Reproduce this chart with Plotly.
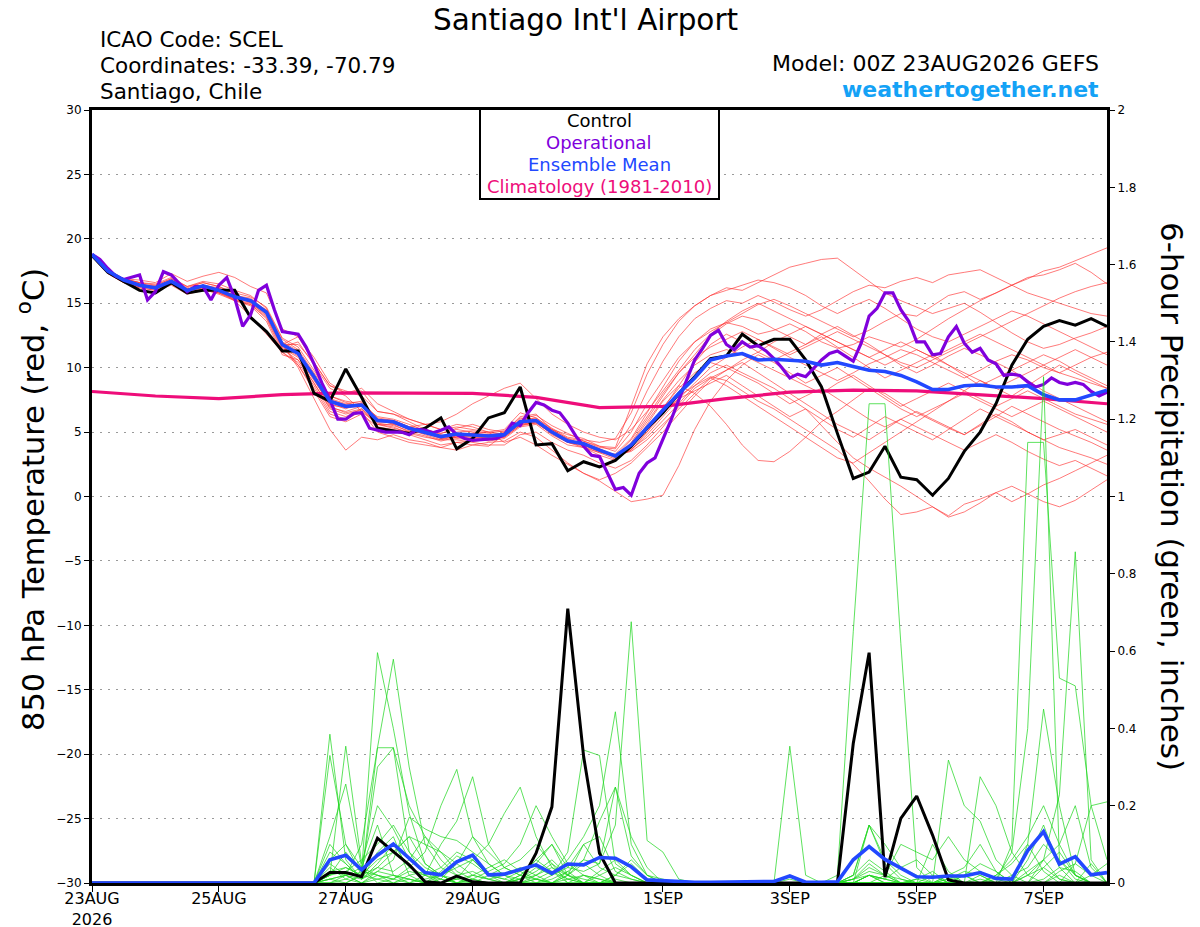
import pandas as pd
import plotly.graph_objects as go

# forecast valid times, 6-hourly, 00Z 23AUG2026 run
times = pd.date_range("2026-08-23 00:00", periods=65, freq="6h")
times_3h = pd.date_range("2026-08-23 00:00", periods=129, freq="3h")
clim_times = pd.date_range("2026-08-23 00:00", periods=17, freq="24h")

tick_vals = ["2026-08-23", "2026-08-25", "2026-08-27", "2026-08-29",
             "2026-09-01", "2026-09-03", "2026-09-05", "2026-09-07"]
tick_text = ["23AUG<br>2026", "25AUG", "27AUG", "29AUG", "1SEP", "3SEP", "5SEP", "7SEP"]

# 850 hPa temperature, ensemble members (degC)
t_m01 = [18.7, 17.6, 16.9, 16.6, 16.5, 17.0, 16.3, 16.7, 16.5, 16.0, 15.6, 14.6, 12.2,
         11.4, 9.6, 7.8, 7.3, 7.0, 6.2, 6.0, 5.6, 5.1, 4.9, 5.3, 5.6, 5.2,
         5.0, 6.2, 6.4, 5.2, 4.8, 4.5, 3.9, 3.5, 5.0, 7.2, 9.0, 10.8, 12.0,
         13.0, 13.5, 13.2, 12.6, 12.9, 13.4, 12.8, 12.0, 11.5, 11.8, 12.4, 12.0, 11.6,
         12.2, 13.0, 13.8, 14.5, 15.2, 15.8, 16.4, 16.9, 17.5, 17.8, 18.3, 18.8, 19.3]
t_m02 = [18.8, 17.4, 16.6, 16.2, 16.0, 16.4, 15.7, 16.0, 15.8, 15.3, 15.0, 14.0, 11.5,
         10.8, 9.0, 7.2, 6.8, 7.3, 6.0, 5.6, 5.0, 4.7, 4.3, 4.6, 4.9, 5.0,
         5.2, 6.5, 6.1, 5.3, 4.6, 4.4, 4.2, 4.5, 6.5, 9.5, 11.8, 13.6, 14.8,
         15.6, 16.2, 16.0, 16.6, 17.2, 17.8, 18.1, 18.4, 18.5, 17.6, 16.7, 15.8, 15.2,
         14.7, 14.2, 14.6, 15.0, 14.3, 13.5, 12.7, 12.0, 11.5, 11.8, 12.3, 12.7, 13.2]
t_m03 = [18.6, 17.5, 16.9, 16.8, 16.6, 17.3, 16.7, 17.1, 17.4, 17.0, 16.3, 15.8, 13.0,
         12.4, 10.4, 8.6, 8.0, 8.2, 6.6, 6.4, 5.8, 5.2, 4.9, 5.2, 5.0, 4.6,
         5.0, 6.0, 6.3, 5.5, 4.9, 4.3, 3.8, 3.7, 5.6, 8.2, 10.5, 12.4, 13.8,
         14.6, 15.2, 15.0, 15.6, 15.1, 14.5, 14.0, 14.5, 15.2, 15.9, 16.4, 16.2, 16.7,
         17.0, 16.6, 17.2, 17.4, 17.6, 17.0, 16.4, 15.8, 15.4, 15.0, 14.6, 14.2, 14.0]
t_m04 = [18.7, 17.3, 16.6, 16.3, 16.3, 16.8, 16.1, 16.3, 15.9, 15.6, 15.4, 14.4, 11.9,
         11.0, 9.4, 7.6, 7.2, 7.4, 6.1, 5.9, 5.4, 5.2, 4.8, 4.5, 4.4, 4.4,
         4.6, 5.5, 5.8, 5.1, 4.2, 3.8, 3.4, 3.3, 4.5, 6.5, 8.5, 10.5, 12.0,
         12.8, 13.5, 14.2, 14.9, 15.3, 14.8, 14.2, 13.6, 13.0, 12.4, 12.9, 13.6, 14.2,
         14.0, 14.8, 15.6, 15.9, 15.3, 15.8, 16.4, 17.0, 17.2, 17.6, 18.1, 17.4, 16.5]
t_m05 = [18.8, 17.6, 16.8, 16.3, 16.2, 16.6, 15.9, 16.2, 16.1, 15.6, 15.1, 14.2, 11.6,
         10.9, 9.1, 7.0, 6.5, 6.8, 5.8, 5.7, 5.3, 5.1, 4.7, 4.9, 4.7, 4.5,
         4.7, 5.6, 5.7, 4.9, 4.2, 3.9, 3.4, 2.9, 4.2, 6.0, 7.8, 9.6, 11.0,
         12.5, 13.4, 14.0, 13.7, 13.0, 12.4, 11.8, 12.6, 13.2, 12.5, 11.8, 11.0, 10.2,
         9.6, 10.2, 10.9, 11.5, 11.0, 10.4, 9.8, 10.4, 11.0, 10.5, 9.8, 9.2, 8.6]
t_m06 = [18.7, 17.5, 16.7, 16.4, 16.4, 16.9, 16.2, 16.6, 16.3, 15.7, 15.0, 14.1, 11.7,
         11.2, 9.5, 7.3, 6.9, 7.0, 5.7, 5.5, 5.1, 4.9, 4.6, 5.0, 5.1, 4.9,
         5.1, 6.1, 6.0, 5.0, 4.4, 4.0, 3.5, 3.0, 3.6, 4.8, 6.2, 7.6, 8.8,
         10.0, 10.8, 11.6, 12.2, 11.5, 10.8, 10.2, 9.6, 9.0, 9.6, 10.3, 10.8, 11.4,
         11.0, 10.4, 9.8, 9.2, 9.8, 10.5, 11.0, 10.6, 10.0, 9.6, 10.2, 10.8, 11.2]
t_m07 = [18.8, 17.4, 16.7, 16.5, 16.2, 16.5, 15.8, 16.1, 15.7, 15.2, 14.9, 13.9, 11.4,
         10.6, 8.8, 6.8, 6.4, 6.7, 5.6, 5.4, 4.9, 4.6, 4.4, 4.7, 4.6, 4.3,
         4.5, 5.4, 5.6, 4.7, 4.0, 3.8, 3.2, 2.8, 3.8, 5.6, 7.4, 8.6, 8.0,
         7.0, 5.6, 4.0, 2.8, 2.7, 3.5, 4.6, 5.8, 6.6, 7.5, 8.4, 8.0, 7.2,
         6.5, 5.9, 5.3, 4.8, 5.5, 6.2, 7.0, 6.4, 5.8, 5.2, 4.7, 4.2, 3.6]
t_m08 = [18.6, 17.4, 16.9, 16.6, 16.1, 16.6, 16.0, 16.4, 16.2, 15.4, 15.2, 14.5, 12.0,
         11.3, 9.2, 7.5, 7.1, 7.2, 6.0, 5.9, 5.4, 5.0, 4.5, 4.6, 4.5, 4.6,
         4.9, 5.9, 5.8, 4.8, 4.2, 4.2, 3.7, 3.2, 3.9, 5.0, 6.4, 7.8, 8.6,
         9.3, 9.0, 8.2, 7.4, 6.8, 6.0, 5.2, 4.4, 3.6, 2.5, 1.2, -0.2, -1.4,
         -1.2, -0.8, -1.5, -0.6, -0.2, 0.3, -0.4, 0.2, 0.9, 1.4, 2.0, 2.6, 3.2]
t_m09 = [18.7, 17.5, 16.8, 16.3, 16.1, 16.7, 16.1, 16.3, 16.1, 15.6, 15.3, 14.3, 11.9,
         11.0, 9.3, 7.4, 7.0, 7.0, 5.9, 5.9, 5.4, 5.0, 4.7, 4.9, 4.9, 4.8,
         4.9, 5.7, 6.0, 5.1, 4.4, 4.1, 3.7, 3.1, 3.8, 5.2, 6.5, 7.6, 8.2,
         8.8, 9.4, 8.6, 7.8, 7.0, 6.2, 6.8, 5.5, 4.2, 3.0, 2.2, 1.5, 0.8,
         0.0, -0.8, -1.6, -1.2, -0.5, 0.3, 0.8, 0.2, -0.4, -0.8, -0.3, 0.5, 1.3]
t_m10 = [18.8, 17.6, 16.9, 16.5, 16.3, 16.8, 16.1, 16.4, 15.9, 15.5, 15.2, 14.3, 11.7,
         11.1, 9.4, 7.5, 7.1, 7.0, 5.8, 5.8, 5.3, 5.0, 4.7, 4.8, 4.9, 4.8,
         4.8, 5.9, 6.1, 5.2, 4.5, 4.0, 3.5, 3.1, 3.9, 5.3, 6.9, 8.4, 9.6,
         10.4, 10.0, 9.4, 8.8, 8.0, 7.2, 7.8, 8.4, 7.6, 6.8, 6.0, 5.4, 6.0,
         6.6, 6.0, 5.4, 4.8, 5.6, 6.4, 5.8, 5.0, 4.4, 4.8, 5.2, 4.6, 4.0]
t_m11 = [18.7, 17.5, 16.8, 16.4, 16.2, 16.6, 16.0, 16.3, 16.0, 15.2, 14.0, 12.6, 11.2,
         10.2, 8.4, 6.4, 6.0, 6.6, 5.6, 5.3, 5.0, 5.0, 4.6, 4.8, 4.7, 4.6,
         4.7, 5.6, 5.8, 5.2, 4.5, 4.3, 3.9, 3.8, 7.0, 10.3, 12.4, 13.8, 14.8,
         15.6, 16.0, 16.4, 16.8, 16.6, 16.2, 15.6, 14.8, 14.2, 14.8, 15.3, 14.6, 13.8,
         13.0, 12.4, 12.0, 12.6, 13.2, 13.8, 14.4, 14.0, 13.4, 12.8, 12.2, 11.6, 11.0]
t_m12 = [18.7, 17.4, 16.8, 16.4, 16.2, 16.7, 16.0, 16.3, 15.8, 15.4, 15.1, 14.4, 11.9,
         11.2, 9.3, 7.1, 6.9, 7.1, 5.9, 5.7, 5.2, 4.9, 4.7, 4.9, 4.7, 4.8,
         4.8, 5.8, 5.9, 5.0, 4.3, 4.0, 3.6, 3.2, 3.5, 4.4, 5.6, 6.8, 8.0,
         9.2, 9.8, 10.4, 9.6, 8.8, 8.0, 7.2, 6.4, 5.6, 5.0, 4.4, 5.2, 6.0,
         5.4, 4.8, 4.2, 3.6, 4.2, 4.8, 4.2, 3.5, 2.9, 2.4, 2.8, 2.2, 1.6]
t_m13 = [18.8, 17.5, 16.7, 16.3, 16.2, 16.8, 15.9, 16.4, 16.1, 15.5, 15.2, 14.2, 11.8,
         11.8, 10.4, 8.6, 8.2, 7.8, 6.6, 6.4, 6.0, 5.6, 5.2, 5.4, 5.2, 5.0,
         4.8, 5.7, 5.9, 5.0, 4.3, 4.1, 3.6, 3.2, 4.1, 5.8, 7.5, 9.0, 10.2,
         11.0, 11.4, 11.0, 10.4, 9.8, 9.2, 8.6, 8.0, 8.8, 9.4, 8.6, 7.8, 7.0,
         7.6, 8.2, 8.8, 8.2, 7.6, 7.0, 7.6, 8.2, 7.6, 7.0, 6.4, 6.0, 5.6]
t_m14 = [18.7, 17.6, 16.8, 16.4, 16.1, 16.6, 16.0, 16.3, 16.0, 15.6, 15.2, 14.3, 11.8,
         10.2, 8.2, 6.2, 5.8, 6.4, 5.4, 5.2, 4.8, 4.4, 4.0, 4.2, 4.3, 4.4,
         4.8, 5.8, 5.9, 5.0, 4.3, 4.1, 3.6, 3.1, 3.6, 5.0, 6.8, 8.6, 10.4,
         11.8, 12.6, 12.0, 11.2, 10.6, 11.2, 11.8, 12.4, 11.6, 10.8, 10.0, 9.2, 9.8,
         10.4, 11.0, 10.2, 9.4, 8.6, 9.2, 9.8, 9.0, 8.2, 7.6, 7.0, 6.4, 5.8]
t_m15 = [18.8, 17.4, 16.7, 16.3, 16.3, 16.7, 16.1, 16.4, 16.0, 15.4, 15.1, 14.2, 11.6,
         12.0, 10.2, 8.4, 7.8, 6.6, 5.0, 4.6, 4.2, 4.0, 3.8, 4.2, 4.0, 3.9,
         4.8, 5.8, 5.9, 5.0, 4.3, 4.1, 3.6, 3.1, 3.7, 4.6, 5.9, 7.2, 8.6,
         9.6, 10.2, 9.6, 9.0, 8.4, 7.6, 6.8, 6.0, 5.2, 4.6, 5.4, 6.2, 5.6,
         5.0, 4.4, 5.2, 6.0, 6.8, 6.2, 5.6, 5.0, 4.4, 3.8, 3.4, 3.0, 2.5]
t_m16 = [18.7, 17.5, 16.8, 16.4, 16.2, 16.7, 16.0, 16.3, 16.0, 15.5, 15.2, 14.3, 11.8,
         10.0, 7.6, 5.2, 3.6, 4.6, 4.4, 4.8, 4.4, 4.2, 3.8, 3.6, 4.0, 4.2,
         4.3, 5.0, 4.6, 3.6, 2.6, 1.8, 1.2, 0.4, -0.4, -0.2, 0.1, 2.4, 5.2,
         7.4, 9.0, 10.2, 11.0, 10.4, 9.6, 8.8, 9.4, 10.0, 9.2, 8.4, 7.6, 6.8,
         6.2, 6.8, 7.4, 8.0, 7.4, 6.8, 6.2, 6.8, 7.4, 6.8, 6.2, 5.6, 5.0]
t_m17 = [18.8, 17.5, 16.8, 16.4, 16.2, 16.7, 16.0, 16.4, 16.0, 15.5, 15.2, 14.3, 11.8,
         12.4, 10.8, 8.8, 8.0, 8.4, 7.2, 6.6, 6.0, 5.6, 5.2, 5.6, 5.4, 5.0,
         4.2, 4.6, 4.0, 3.2, 2.5, 1.8, 1.3, 1.8, 2.6, 3.8, 5.0, 6.4, 7.8,
         9.0, 9.8, 10.6, 11.2, 12.0, 12.6, 13.2, 12.6, 12.0, 11.4, 10.8, 10.2, 10.8,
         11.4, 10.8, 10.2, 9.6, 9.0, 8.4, 9.0, 9.6, 10.2, 10.8, 11.4, 10.8, 10.2]
t_m18 = [18.6, 17.3, 16.6, 16.2, 16.0, 16.5, 15.8, 16.1, 15.9, 15.3, 14.9, 13.8, 11.2,
         10.4, 8.6, 6.6, 6.2, 6.8, 5.6, 5.6, 5.4, 5.6, 5.8, 6.4, 7.2, 7.8,
         8.4, 8.8, 7.6, 6.4, 5.6, 5.0, 4.6, 4.4, 5.2, 6.6, 8.2, 9.8, 11.4,
         12.6, 13.6, 14.4, 15.0, 14.4, 13.8, 13.2, 12.6, 12.0, 11.4, 10.8, 11.4, 12.0,
         11.4, 10.8, 11.4, 12.0, 12.6, 12.0, 11.4, 10.8, 10.2, 9.6, 9.2, 8.8, 8.4]
t_m19 = [18.8, 17.6, 16.9, 16.6, 16.4, 16.9, 16.3, 16.6, 16.3, 15.8, 15.5, 14.7, 12.3,
         11.6, 9.8, 7.8, 7.4, 7.2, 6.0, 5.8, 5.2, 4.8, 4.4, 4.4, 4.2, 4.0,
         4.0, 4.8, 5.0, 4.2, 3.6, 3.2, 2.6, 2.2, 2.8, 4.0, 5.4, 7.0, 8.4,
         9.2, 8.6, 7.8, 7.0, 6.2, 5.4, 4.6, 3.8, 3.0, 2.6, 3.4, 4.2, 5.0,
         5.8, 6.6, 7.4, 8.2, 9.0, 8.4, 7.8, 8.6, 9.4, 10.2, 9.6, 9.0, 8.4]
t_m20 = [18.7, 17.4, 16.7, 16.4, 16.2, 16.6, 15.9, 16.2, 15.8, 15.2, 14.8, 13.6, 11.0,
         10.6, 8.8, 6.9, 6.6, 7.0, 5.9, 5.7, 5.2, 4.9, 4.5, 4.7, 4.6, 4.5,
         4.6, 5.5, 5.7, 4.9, 4.2, 4.0, 3.5, 3.1, 4.4, 6.2, 8.0, 9.6, 10.8,
         11.6, 12.2, 12.8, 12.2, 11.6, 11.0, 11.6, 12.2, 12.8, 12.2, 11.6, 11.0, 10.4,
         10.0, 10.6, 11.2, 11.8, 12.4, 13.0, 13.6, 14.2, 14.8, 15.4, 15.9, 16.3, 16.6]
temp_members = [t_m01, t_m02, t_m03, t_m04, t_m05, t_m06, t_m07, t_m08, t_m09, t_m10,
                t_m11, t_m12, t_m13, t_m14, t_m15, t_m16, t_m17, t_m18, t_m19, t_m20]

# 6-hour precipitation, ensemble members (inches)
z13 = [0] * 13
p_m01 = z13 + [0, 0, 0.385, 0.06, 0.01, 0.04, 0.08, 0.12, 0.05, 0.02, 0, 0.01, 0,
               0, 0, 0.02, 0.05, 0, 0, 0, 0, 0, 0, 0, 0, 0,
               0, 0, 0, 0, 0, 0.02, 0, 0, 0, 0.01, 0.04, 0.02, 0,
               0, 0, 0.01, 0.02, 0, 0, 0, 0.03, 0.06, 0.01, 0, 0, 0]
p_m02 = z13 + [0, 0, 0.33, 0.1, 0.02, 0.3, 0.35, 0.2, 0.12, 0.06, 0.02, 0, 0,
               0, 0.01, 0.06, 0.03, 0.01, 0, 0, 0.02, 0.05, 0.01, 0, 0, 0,
               0, 0, 0, 0, 0, 0, 0, 0, 0, 0.02, 0.15, 0.05, 0.01,
               0, 0, 0.02, 0, 0.01, 0, 0, 0.1, 0.45, 0.2, 0.02, 0, 0]
p_m03 = z13 + [0, 0, 0.02, 0.354, 0.05, 0.2, 0.14, 0.06, 0.03, 0, 0.01, 0.06, 0.02,
               0, 0, 0, 0, 0.02, 0.05, 0.02, 0, 0, 0, 0, 0, 0,
               0, 0, 0, 0, 0, 0.354, 0.02, 0, 0, 0, 0.02, 0.01, 0,
               0.01, 0.03, 0, 0, 0, 0.02, 0.05, 0.1, 0.03, 0, 0, 0, 0]
p_m04 = z13 + [0, 0, 0.12, 0.256, 0.04, 0.15, 0.02, 0.01, 0, 0.03, 0.07, 0.05, 0.02,
               0.01, 0, 0, 0.02, 0.04, 0.1, 0.12, 0.03, 0.01, 0, 0, 0, 0,
               0, 0, 0, 0, 0, 0, 0, 0, 0.02, 0.65, 1.24, 1.24, 0.62,
               0.04, 0, 0, 0, 0.02, 0, 0, 0, 0, 0.03, 0.05, 0.02, 0]
p_m05 = z13 + [0, 0, 0.02, 0.08, 0.03, 0.596, 0.4, 0.18, 0.05, 0.02, 0, 0.02, 0.04,
               0.06, 0.03, 0.01, 0, 0, 0, 0, 0.02, 0.01, 0, 0, 0, 0,
               0, 0, 0, 0, 0, 0, 0, 0, 0, 0, 0.02, 0.01, 0,
               0, 0, 0.318, 0.2, 0.16, 0.06, 0.02, 0, 0, 0, 0.05, 0.2, 0.21]
p_m06 = z13 + [0, 0, 0.05, 0.02, 0.1, 0.35, 0.579, 0.3, 0.1, 0.04, 0.02, 0, 0,
               0, 0.02, 0.05, 0.1, 0.02, 0, 0, 0, 0, 0, 0, 0, 0,
               0, 0, 0, 0, 0, 0.01, 0, 0, 0, 0.02, 0.15, 0.06, 0.02,
               0, 0.1, 0.03, 0, 0.275, 0.2, 0.08, 0.02, 0, 0, 0, 0, 0]
p_m07 = z13 + [0, 0, 0.03, 0.04, 0.02, 0.35, 0.35, 0.08, 0.02, 0.01, 0.05, 0.12, 0.08,
               0.04, 0.02, 0, 0, 0.03, 0.06, 0.05, 0.248, 0.07, 0.02, 0, 0, 0,
               0, 0, 0, 0, 0, 0, 0, 0, 0, 0.01, 0.03, 0.02, 0.01,
               0, 0, 0.01, 0.03, 0.02, 0, 0.1, 1.14, 1.14, 0.53, 0.51, 0.2, 0.06]
p_m08 = z13 + [0, 0, 0.08, 0.05, 0.01, 0.03, 0.06, 0.17, 0.14, 0.12, 0.11, 0.08, 0.05,
               0.02, 0, 0.01, 0.03, 0, 0, 0, 0, 0, 0, 0, 0, 0,
               0, 0, 0, 0, 0, 0, 0, 0, 0, 0, 0.02, 0.01, 0.04,
               0.06, 0.02, 0, 0, 0, 0.01, 0.08, 0.4, 1.31, 0.06, 0.01, 0, 0]
p_m09 = z13 + [0, 0, 0, 0.02, 0.01, 0.05, 0.1, 0.04, 0.08, 0.2, 0.294, 0.12, 0.05,
               0.02, 0.01, 0.03, 0.06, 0.02, 0.01, 0, 0, 0, 0, 0, 0, 0,
               0, 0, 0, 0, 0, 0, 0, 0, 0, 0, 0, 0, 0,
               0, 0, 0, 0.02, 0.05, 0.03, 0, 0.02, 0.06, 0.228, 0.857, 0.06, 0]
p_m10 = z13 + [0, 0, 0.01, 0.02, 0, 0.02, 0.01, 0.04, 0.02, 0.1, 0.16, 0.275, 0.1,
               0.04, 0.02, 0.01, 0, 0.01, 0.02, 0, 0, 0, 0, 0, 0, 0,
               0, 0, 0, 0, 0, 0, 0, 0, 0, 0.01, 0.05, 0.02, 0,
               0.01, 0, 0.02, 0.04, 0.1, 0.03, 0, 0, 0.04, 0.08, 0.02, 0, 0]
p_m11 = z13 + [0, 0, 0.04, 0.01, 0, 0.03, 0.02, 0, 0.02, 0.04, 0.08, 0.06, 0.1,
               0.18, 0.248, 0.12, 0.04, 0.01, 0, 0.03, 0.06, 0.02, 0, 0, 0, 0,
               0, 0, 0, 0, 0, 0, 0, 0, 0, 0, 0.02, 0, 0,
               0, 0, 0, 0, 0, 0, 0, 0, 0, 0, 0, 0, 0]
p_m12 = z13 + [0, 0, 0.02, 0.03, 0.06, 0.1, 0.15, 0.08, 0.04, 0.02, 0, 0.01, 0.03,
               0.05, 0.1, 0.2, 0.12, 0.05, 0.02, 0.01, 0, 0, 0, 0, 0, 0,
               0, 0, 0, 0, 0, 0, 0, 0, 0, 0, 0, 0, 0,
               0, 0, 0, 0, 0, 0, 0.02, 0.04, 0.1, 0.06, 0.02, 0, 0]
p_m13 = z13 + [0, 0, 0.01, 0, 0.02, 0.06, 0.08, 0.12, 0.1, 0.08, 0.05, 0.02, 0.01,
               0, 0.01, 0.04, 0.02, 0.08, 0.344, 0.33, 0.05, 0.02, 0, 0, 0, 0,
               0, 0, 0, 0, 0, 0, 0, 0, 0, 0, 0, 0, 0,
               0, 0, 0, 0, 0, 0, 0, 0, 0, 0, 0, 0, 0]
p_m14 = z13 + [0, 0, 0, 0.01, 0.03, 0.02, 0.01, 0, 0.01, 0.02, 0.04, 0.06, 0.02,
               0.01, 0.03, 0.05, 0.02, 0.06, 0.12, 0.2, 0.443, 0.1, 0.02, 0, 0, 0,
               0, 0, 0, 0, 0, 0, 0, 0, 0, 0, 0, 0, 0,
               0, 0, 0, 0, 0, 0.02, 0.06, 0.12, 0.2, 0.1, 0.02, 0, 0]
p_m15 = z13 + [0, 0, 0.02, 0.04, 0.02, 0.01, 0, 0.02, 0.03, 0.01, 0, 0, 0.02,
               0.04, 0.06, 0.1, 0.05, 0.02, 0.06, 0.16, 0.248, 0.12, 0.04, 0, 0, 0,
               0, 0, 0, 0, 0, 0, 0, 0, 0, 0.02, 0.06, 0.03, 0,
               0, 0, 0, 0, 0, 0, 0, 0, 0, 0, 0, 0, 0]
p_m16 = z13 + [0, 0, 0.03, 0.02, 0, 0.01, 0.02, 0.01, 0, 0, 0.01, 0.02, 0.01,
               0, 0.02, 0.06, 0.1, 0.04, 0.03, 0.05, 0.15, 0.676, 0.11, 0.08, 0.01, 0,
               0, 0, 0, 0, 0, 0, 0, 0, 0, 0, 0, 0, 0,
               0, 0, 0, 0, 0, 0, 0, 0, 0.01, 0.04, 0.03, 0, 0]
p_m17 = z13 + [0, 0, 0.01, 0.02, 0.04, 0, 0.01, 0.03, 0.02, 0, 0.02, 0.03, 0.01,
               0.02, 0.04, 0.02, 0, 0.02, 0.1, 0.04, 0.02, 0.06, 0.02, 0.01, 0, 0,
               0, 0, 0, 0, 0, 0, 0, 0, 0, 0.01, 0.02, 0, 0,
               0, 0.02, 0, 0, 0, 0, 0, 0.02, 0.04, 0.01, 0, 0.02, 0.05]
p_m18 = z13 + [0, 0, 0.06, 0.1, 0.04, 0.02, 0, 0.01, 0, 0.02, 0.01, 0, 0,
               0, 0.01, 0.02, 0.04, 0.02, 0, 0.02, 0.04, 0.02, 0, 0, 0, 0,
               0, 0, 0, 0, 0, 0, 0, 0, 0, 0, 0, 0.02, 0.1,
               0.08, 0.06, 0.12, 0.06, 0.03, 0.01, 0, 0, 0, 0.02, 0, 0, 0]
p_m19 = z13 + [0, 0, 0.1, 0.05, 0.01, 0.08, 0.12, 0.02, 0, 0.01, 0, 0, 0,
               0, 0, 0.01, 0, 0, 0.02, 0.01, 0, 0, 0, 0, 0, 0,
               0, 0, 0, 0, 0, 0, 0, 0, 0, 0, 0.15, 0.1, 0.04,
               0.02, 0, 0, 0.02, 0, 0, 0, 0.06, 0.15, 0.04, 0, 0.05, 0]
p_m20 = z13 + [0, 0, 0, 0, 0.02, 0.04, 0.03, 0.06, 0.12, 0.08, 0.03, 0.01, 0,
               0, 0, 0, 0.01, 0.03, 0, 0, 0.01, 0, 0, 0, 0, 0,
               0, 0, 0, 0, 0, 0, 0, 0, 0, 0, 0, 0, 0,
               0, 0, 0, 0, 0, 0, 0, 0, 0.06, 0.1, 0.2, 0.04, 0]
precip_members = [p_m01, p_m02, p_m03, p_m04, p_m05, p_m06, p_m07, p_m08, p_m09, p_m10,
                  p_m11, p_m12, p_m13, p_m14, p_m15, p_m16, p_m17, p_m18, p_m19, p_m20]

# control run
control_temp = [18.7, 17.4, 16.7, 16.0, 15.8, 16.6, 15.8, 16.0, 16.0, 16.0, 13.9, 12.8, 11.3,
                11.3, 8.0, 7.4, 9.9, 7.7, 5.3, 5.1, 4.9, 5.3, 6.1, 3.7, 4.5, 6.1,
                6.5, 8.5, 4.0, 4.1, 2.0, 2.7, 2.3, 2.8, 3.9, 5.3, 6.5, 8.0, 9.3,
                10.7, 10.9, 12.6, 11.7, 12.2, 12.2, 10.6, 8.5, 4.9, 1.4, 1.9, 3.9, 1.5,
                1.3, 0.1, 1.4, 3.5, 5.0, 7.2, 10.2, 12.2, 13.2, 13.65, 13.3, 13.8, 13.2]
control_precip = z13 + [0, 0, 0.027, 0.027, 0.016, 0.116, 0.081, 0.047, 0.003, 0, 0.018, 0.003, 0,
                        0, 0, 0.077, 0.197, 0.71, 0.327, 0.077, 0, 0, 0, 0, 0, 0,
                        0, 0, 0, 0, 0, 0, 0, 0, 0, 0.361, 0.596, 0.015, 0.167,
                        0.225, 0.124, 0.008, 0, 0, 0, 0, 0, 0, 0, 0, 0, 0]

# ensemble mean
mean_temp = [18.8, 17.5, 16.8, 16.4, 16.2, 16.7, 16.0, 16.35, 16.0, 15.5, 15.2, 14.3, 11.8,
             11.1, 9.3, 7.4, 7.0, 7.1, 5.9, 5.8, 5.3, 5.0, 4.65, 4.85, 4.8, 4.7,
             4.8, 5.8, 5.9, 5.0, 4.3, 4.1, 3.6, 3.15, 4.0, 5.4, 6.7, 8.0, 9.2,
             10.6, 10.9, 11.1, 10.6, 10.65, 10.6, 10.5, 10.2, 10.4, 10.1, 9.8, 9.7, 9.4,
             8.9, 8.3, 8.3, 8.6, 8.65, 8.5, 8.5, 8.6, 7.9, 7.5, 7.5, 7.9, 8.25]
mean_precip = z13 + [0, 0, 0.06, 0.072, 0.034, 0.072, 0.101, 0.064, 0.027, 0.021, 0.055, 0.072, 0.021,
                     0.023, 0.035, 0.047, 0.025, 0.049, 0.047, 0.066, 0.064, 0.042, 0.008, 0.006, 0.003, 0.002,
                     0.002, 0.002, 0.003, 0.004, 0.004, 0.018, 0.002, 0.002, 0.003, 0.06, 0.094, 0.061, 0.038,
                     0.016, 0.015, 0.018, 0.018, 0.027, 0.012, 0.01, 0.084, 0.133, 0.049, 0.068, 0.021, 0.027]

# operational GFS, 3-hourly
oper_temp = [18.8, 18.4, 17.7, 17.1, 16.85, 17.05, 17.2, 15.25, 15.9, 17.45, 17.2, 16.55, 15.9,
             16.3, 16.3, 15.25, 16.4, 17.0, 15.4, 13.2, 14.1, 16.0, 16.4, 14.5, 12.8, 12.7,
             12.6, 11.6, 10.3, 8.8, 7.5, 6.0, 6.0, 6.45, 6.5, 5.3, 5.15, 5.0, 5.0, 5.0,
             4.8, 5.2, 5.15, 4.95, 5.15,
             5.4, 4.8, 4.5, 4.35, 4.4, 4.45, 4.5, 4.8, 5.7, 5.5, 6.5, 7.3, 7.1,
             6.7, 6.5, 5.7, 4.7, 3.9, 3.2, 3.1, 1.8, 0.55, 0.7, 0.1, 1.8, 2.6,
             3.0, 4.4, 5.9, 7.5, 9.0, 10.6, 11.5, 12.5, 12.9, 11.8, 11.4, 12.0, 11.6,
             11.7, 11.3, 10.7, 10.0, 9.2, 9.5, 9.3, 9.95, 10.6, 11.1, 11.3, 10.9, 10.5,
             11.9, 14.0, 14.6, 15.8, 15.8, 14.5, 13.6, 12.0, 12.0, 11.0, 11.1, 12.4, 13.2,
             11.9, 11.2, 11.5, 10.6, 10.3, 9.4, 9.5, 9.4, 8.9, 8.5, 8.7, 9.2, 8.85,
             8.7, 8.85, 8.7, 8.15, 7.8, 8.1]

# climatology 1981-2010, daily
clim_temp = [8.15, 7.8, 7.6, 7.9, 8.05, 8.05, 8.0, 7.7, 6.9, 7.0, 7.6, 8.1, 8.25,
             8.2, 7.9, 7.6, 7.2]

FONT = "DejaVu Sans"
# plot frame as seen on the page (the page body adds an 8 px offset)
L, R, T, B = 92, 1107, 110, 883
OFF = 8


def px(x):
    return (x - L) / (R - L)


def py(y):
    return (B - y) / (B - T)


fig = go.Figure()

for m in temp_members:
    fig.add_trace(go.Scatter(x=times, y=m, mode="lines",
                             line=dict(color="rgba(255,45,45,0.8)", width=0.8)))
for m in precip_members:
    fig.add_trace(go.Scatter(x=times, y=m, mode="lines", yaxis="y2",
                             line=dict(color="rgba(30,215,30,0.9)", width=0.8)))

fig.add_trace(go.Scatter(x=clim_times, y=clim_temp, mode="lines",
                         line=dict(color="#ee0d7a", width=3.2)))
fig.add_trace(go.Scatter(x=times, y=control_precip, mode="lines", yaxis="y2",
                         line=dict(color="black", width=3)))
fig.add_trace(go.Scatter(x=times, y=control_temp, mode="lines",
                         line=dict(color="black", width=3)))
fig.add_trace(go.Scatter(x=times_3h, y=oper_temp, mode="lines",
                         line=dict(color="#8000dc", width=3.2)))
fig.add_trace(go.Scatter(x=times, y=mean_temp, mode="lines",
                         line=dict(color="#2248ff", width=3.6)))
fig.add_trace(go.Scatter(x=times, y=mean_precip, mode="lines", yaxis="y2",
                         line=dict(color="#2248ff", width=3.6)))

annotations = [
    dict(text="Santiago Int'l Airport", x=px(585), y=py(20), size=29.5, anchor="center"),
    dict(text="ICAO Code: SCEL", x=px(98), y=py(40), size=21.5, anchor="left"),
    dict(text="Coordinates: -33.39, -70.79", x=px(98), y=py(66), size=21.5, anchor="left"),
    dict(text="Santiago, Chile", x=px(98), y=py(92), size=21.5, anchor="left"),
    dict(text="Model: 00Z 23AUG2026 GEFS", x=px(1101), y=py(63), size=22, anchor="right"),
    dict(text="<b>weathertogether.net</b>", x=px(1101), y=py(89), size=22, anchor="right",
         color="#14a2f6"),
    dict(text="Control", x=px(599), y=py(121), size=18, anchor="center"),
    dict(text="Operational", x=px(599), y=py(142), size=18, anchor="center", color="#8000dc"),
    dict(text="Ensemble Mean", x=px(599), y=py(164), size=18, anchor="center", color="#2248ff"),
    dict(text="Climatology (1981-2010)", x=px(599), y=py(186), size=18, anchor="center",
         color="#ee0d7a"),
]
for a in annotations:
    fig.add_annotation(text=a["text"], x=a["x"], y=a["y"], xref="paper", yref="paper",
                       xanchor=a["anchor"], yanchor="middle", showarrow=False,
                       font=dict(family=FONT, size=a["size"], color=a.get("color", "black")))

fig.add_annotation(text="850 hPa Temperature (red, <sup>o</sup>C)", x=px(31), y=py(500),
                   xref="paper", yref="paper", textangle=-90, showarrow=False,
                   xanchor="center", yanchor="middle",
                   font=dict(family=FONT, size=30.5, color="black"))
fig.add_annotation(text="6-hour Precipitation (green, inches)", x=px(1172), y=py(496),
                   xref="paper", yref="paper", textangle=90, showarrow=False,
                   xanchor="center", yanchor="middle",
                   font=dict(family=FONT, size=31, color="black"))

# legend box
fig.add_shape(type="rect", xref="paper", yref="paper", x0=px(480), x1=px(719),
              y0=py(199), y1=py(109), fillcolor="white", line=dict(color="black", width=2),
              layer="above")

fig.update_layout(
    width=1200, height=927,
    margin=dict(l=L - OFF, r=1200 - R + OFF, t=T - OFF, b=927 - B + OFF),
    paper_bgcolor="white", plot_bgcolor="white",
    showlegend=False,
    xaxis=dict(
        type="date", range=["2026-08-23 00:00", "2026-09-08 00:00"],
        tickmode="array", tickvals=tick_vals, ticktext=tick_text,
        ticks="outside", ticklen=6, tickcolor="black", tickwidth=1,
        ticklabelstandoff=-7,
        showgrid=False, zeroline=False, automargin=False,
        showline=True, linecolor="black", linewidth=3, mirror=True,
        tickfont=dict(family=FONT, size=16, color="black"),
    ),
    yaxis=dict(
        range=[-30, 30], dtick=5, tick0=0,
        ticks="outside", ticklen=5, tickcolor="black", tickwidth=1,
        showgrid=True, gridcolor="#9a9a9a", griddash="2px,6px", gridwidth=1.2,
        zeroline=False, showline=True, linecolor="black", linewidth=3, automargin=False,
        tickfont=dict(family=FONT, size=12, color="black"),
    ),
    yaxis2=dict(
        range=[0, 2], dtick=0.2, tick0=0, overlaying="y", side="right",
        ticks="outside", ticklen=5, tickcolor="black", tickwidth=1,
        showgrid=False, zeroline=False, showline=True, linecolor="black", linewidth=3,
        automargin=False,
        tickfont=dict(family=FONT, size=12, color="black"),
    ),
)

fig.write_html("out.html")
